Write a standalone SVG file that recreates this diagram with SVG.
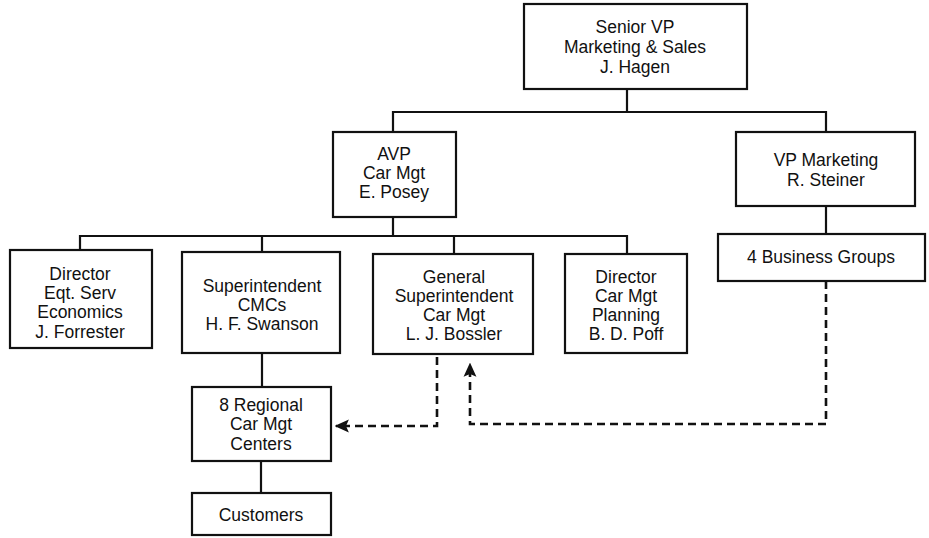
<svg xmlns="http://www.w3.org/2000/svg" width="929" height="538" viewBox="0 0 929 538">
  <style>
    .box { fill: #fff; stroke: #111; stroke-width: 2.2; }
    .lbl { font-family: "Liberation Sans", Arial, sans-serif; font-size: 17.5px; fill: #111; text-anchor: middle; }
    .line { fill: none; stroke: #111; stroke-width: 2.2; }
    .dash { fill: none; stroke: #111; stroke-width: 2.6; stroke-dasharray: 8 5; }
  </style>
  <defs>
    <marker id="arrow" viewBox="0 0 10 10" refX="9" refY="5" markerWidth="5.5" markerHeight="5.5" orient="auto" markerUnits="strokeWidth">
      <path d="M0,0.5 L10,5 L0,9.5 L2,5 Z" fill="#111"/>
    </marker>
  </defs>

  <g id="connectors">
    <!-- solid reporting lines -->
    <path class="line" d="M627,89 V112 M393,132 V112 H826 V132"/>
    <path class="line" d="M393,217 V236 M80,250 V236 H627 V254 M262,236 V252 M454,236 V254"/>
    <path class="line" d="M826,206 V234"/>
    <path class="line" d="M262,353 V387 M261,461 V493"/>
    <!-- dotted-line relationships -->
    <path class="dash" d="M437,357 V426 H336" marker-end="url(#arrow)"/>
    <path class="dash" d="M826,281 V424 H470 V364" marker-end="url(#arrow)"/>
  </g>

  <g id="senior-vp">
    <rect class="box" x="524" y="4" width="223" height="85"/>
    <text class="lbl" x="635" y="33">Senior VP</text>
    <text class="lbl" x="635" y="53">Marketing &amp; Sales</text>
    <text class="lbl" x="635" y="73">J. Hagen</text>
  </g>

  <g id="avp-car-mgt">
    <rect class="box" x="333" y="132" width="123" height="85"/>
    <text class="lbl" x="394" y="160">AVP</text>
    <text class="lbl" x="394" y="179">Car Mgt</text>
    <text class="lbl" x="394" y="198">E. Posey</text>
  </g>

  <g id="vp-marketing">
    <rect class="box" x="736" y="132" width="179" height="74"/>
    <text class="lbl" x="826" y="166">VP Marketing</text>
    <text class="lbl" x="826" y="186">R. Steiner</text>
  </g>

  <g id="director-eqt">
    <rect class="box" x="10" y="250" width="142" height="98"/>
    <text class="lbl" x="80" y="280">Director</text>
    <text class="lbl" x="80" y="299">Eqt. Serv</text>
    <text class="lbl" x="80" y="318">Economics</text>
    <text class="lbl" x="80" y="338">J. Forrester</text>
  </g>

  <g id="supt-cmcs">
    <rect class="box" x="182" y="252" width="158" height="101"/>
    <text class="lbl" x="262" y="292">Superintendent</text>
    <text class="lbl" x="262" y="311">CMCs</text>
    <text class="lbl" x="262" y="330">H. F. Swanson</text>
  </g>

  <g id="gen-supt">
    <rect class="box" x="373" y="254" width="160" height="100"/>
    <text class="lbl" x="454" y="283">General</text>
    <text class="lbl" x="454" y="302">Superintendent</text>
    <text class="lbl" x="454" y="321">Car Mgt</text>
    <text class="lbl" x="454" y="340">L. J. Bossler</text>
  </g>

  <g id="director-planning">
    <rect class="box" x="565" y="254" width="122" height="99"/>
    <text class="lbl" x="626" y="283">Director</text>
    <text class="lbl" x="626" y="302">Car Mgt</text>
    <text class="lbl" x="626" y="321">Planning</text>
    <text class="lbl" x="626" y="340">B. D. Poff</text>
  </g>

  <g id="business-groups">
    <rect class="box" x="718" y="234" width="207" height="47"/>
    <text class="lbl" x="821" y="263">4 Business Groups</text>
  </g>

  <g id="regional-centers">
    <rect class="box" x="192" y="387" width="139" height="74"/>
    <text class="lbl" x="261" y="411">8 Regional</text>
    <text class="lbl" x="261" y="430">Car Mgt</text>
    <text class="lbl" x="261" y="450">Centers</text>
  </g>

  <g id="customers">
    <rect class="box" x="192" y="493" width="139" height="42"/>
    <text class="lbl" x="261" y="521">Customers</text>
  </g>
</svg>
